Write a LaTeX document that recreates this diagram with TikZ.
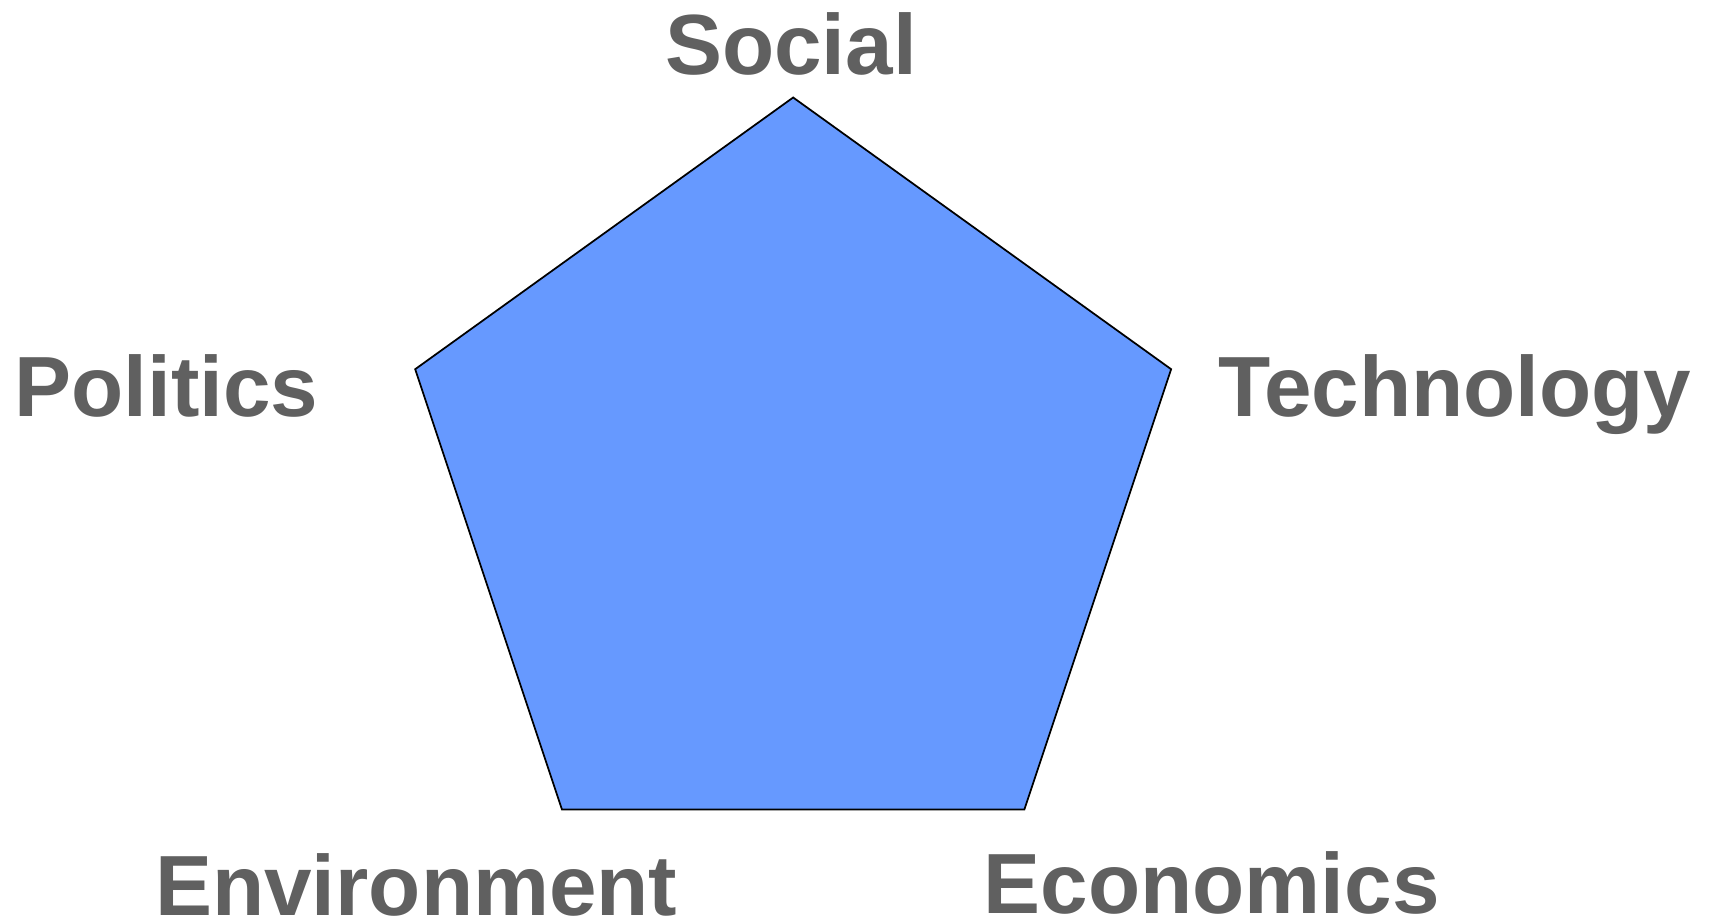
\documentclass[tikz,border=0pt]{standalone}
\usepackage{fontspec}
\setmainfont{Liberation Sans}
\definecolor{lbl}{HTML}{606060}
\definecolor{pent}{HTML}{6699FF}
\begin{document}
\begin{tikzpicture}[x=1pt,y=-1pt,
  lab/.style={anchor=base,inner sep=0pt,text=lbl,font=\fontsize{78}{94}\selectfont\bfseries},
  pentagon/.style={draw=black,line width=1.6pt,fill=pent,line join=miter}]
\useasboundingbox (0,0) rectangle (1560,836);
\coordinate (vT) at (724,89);
\coordinate (vR) at (1069,337);
\coordinate (vBR) at (935,739);
\coordinate (vBL) at (513,739);
\coordinate (vL) at (379,337);
\draw[pentagon] (vT) -- (vR) -- (vBR) -- (vBL) -- (vL) -- cycle;
\node[lab] (social) at (722,68) {Social};
\node[lab] (politics) at (152,380) {Politics};
\node[lab] (technology) at (1328,380) {Technology};
\node[lab] (environment) at (380,836) {Environment};
\node[lab] (economics) at (1106,834) {Economics};
\end{tikzpicture}
\end{document}
